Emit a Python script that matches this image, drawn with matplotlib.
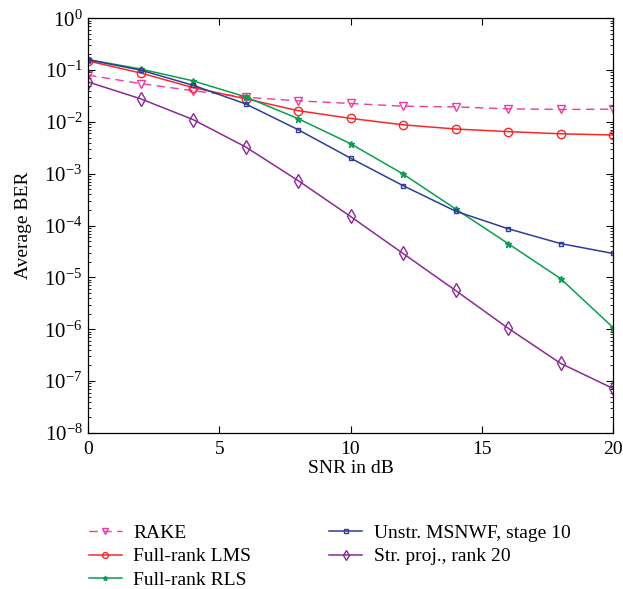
import numpy as np
import matplotlib
matplotlib.use('Agg')
import matplotlib.pyplot as plt
from matplotlib.ticker import LogLocator, FixedLocator, NullFormatter

plt.rcParams['font.family'] = ['Liberation Serif', 'DejaVu Serif']
plt.rcParams['mathtext.fontset'] = 'custom'
plt.rcParams['mathtext.rm'] = 'Liberation Serif'
plt.rcParams['mathtext.it'] = 'Liberation Serif:italic'

snr = [0, 2, 4, 6, 8, 10, 12, 14, 16, 18, 20]

ber_rake = [0.080, 0.055, 0.040, 0.030, 0.0255, 0.0227, 0.0201, 0.0195, 0.0179, 0.0174, 0.0176]
ber_lms = [0.150, 0.088, 0.046, 0.028, 0.0165, 0.0117, 0.0088, 0.0073, 0.0065, 0.0059, 0.0056]
ber_rls = [0.160, 0.105, 0.062, 0.0305, 0.0116, 0.0038, 0.00099, 2.1e-4, 4.5e-5, 9.5e-6, 1.08e-6]
ber_msnwf = [0.158, 0.100, 0.051, 0.0223, 0.0071, 0.0020, 5.9e-4, 1.9e-4, 8.7e-5, 4.5e-5, 2.9e-5]
ber_proj = [0.059, 0.028, 0.0111, 0.0033, 7.4e-4, 1.5e-4, 2.9e-5, 5.6e-6, 1.05e-6, 2.2e-7, 7.2e-8]

labels = ['RAKE', 'Full-rank LMS', 'Full-rank RLS',
          'Unstr. MSNWF, stage 10', 'Str. proj., rank 20']

fig = plt.figure(figsize=(6.23, 5.89), dpi=100)
ax = fig.add_axes([0.1413, 0.265, 0.8427, 0.704])

l1, = ax.semilogy(snr, ber_rake, '--v', color='#ee3b9f', lw=1, ms=6,
                  mfc='none', mew=1, dashes=(6, 4))
l2, = ax.semilogy(snr, ber_lms, '-o', color='#f42a2a', lw=1.1, ms=6,
                  mfc='none', mew=1)
l3, = ax.semilogy(snr, ber_rls, '-*', color='#0a9e4e', lw=1.1, ms=5,
                  mew=1)
l4, = ax.semilogy(snr, ber_msnwf, '-s', color='#2f3c98', lw=1.1, ms=3.5,
                  mfc='none', mew=1)
l5, = ax.semilogy(snr, ber_proj, '-d', color='#8a2a96', lw=1.1, ms=7.5,
                  mfc='none', mew=1)

ax.set_xlim(0, 20)
ax.set_ylim(1e-8, 1)
ax.xaxis.set_major_locator(FixedLocator([0, 5, 10, 15, 20]))
ax.yaxis.set_major_locator(LogLocator(base=10, numticks=20))
ax.yaxis.set_minor_locator(LogLocator(base=10, subs=np.arange(2, 10), numticks=20))
ax.yaxis.set_minor_formatter(NullFormatter())
ax.tick_params(which='both', direction='in', top=True, right=True)
ax.tick_params(axis='x', labelsize=14, pad=6)
ax.tick_params(axis='y', labelsize=15, pad=4)
ax.tick_params(which='major', length=5)
ax.tick_params(which='minor', length=2.5)
for s in ax.spines.values():
    s.set_linewidth(0.9)

ax.set_xlabel('SNR in dB', fontsize=14, labelpad=1)
ax.set_ylabel('Average BER', fontsize=14, labelpad=9)

handles = [l1, l2, l3, l4, l5]
fig.legend(handles, labels, loc='upper left', bbox_to_anchor=(0.13, 0.123),
           ncol=2, frameon=False, fontsize=14, handlelength=1.7,
           labelspacing=0.3, columnspacing=4.0, handletextpad=0.6,
           markerscale=0.7, borderaxespad=0)

fig.savefig('out.png', dpi=100)
